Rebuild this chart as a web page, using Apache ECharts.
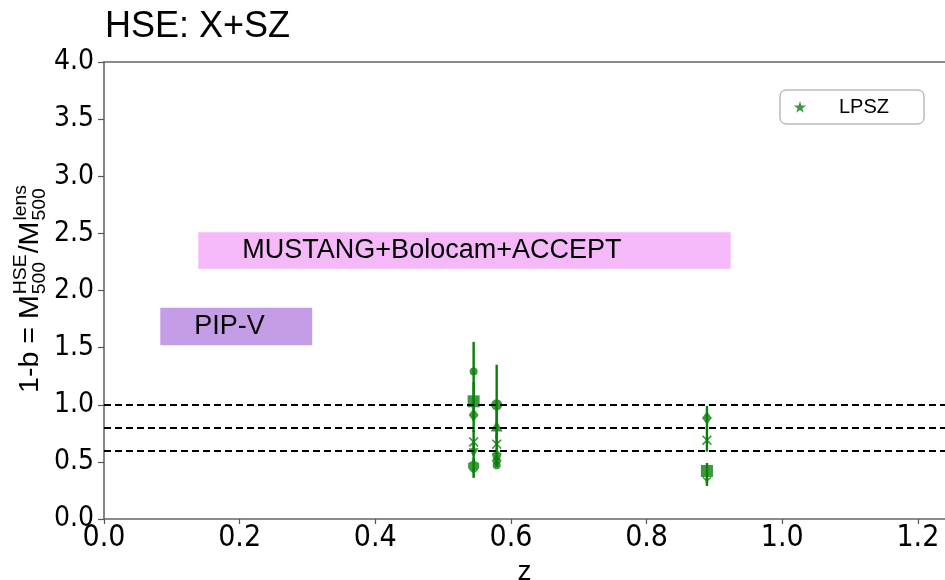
<!DOCTYPE html>
<html><head><meta charset="utf-8">
<script src="https://cdn.jsdelivr.net/npm/echarts@6/dist/echarts.min.js"></script>
<style>html,body{margin:0;padding:0;background:#fff}#c{width:945px;height:580px}</style>
</head><body><div id="c"></div>
<script>
// ---------------- data ----------------
const titleText = 'HSE: X+SZ';
const xAxisName = 'z';
const xTickValues = [0, 0.2, 0.4, 0.6, 0.8, 1.0, 1.2];
const yTickValues = [0, 0.5, 1.0, 1.5, 2.0, 2.5, 3.0, 3.5, 4.0];
const referenceLines = [1.0, 0.8, 0.6];

const bandNames  = ['MUSTANG+Bolocam+ACCEPT', 'PIP-V'];
const bandZMin   = [0.139, 0.083];
const bandZMax   = [0.924, 0.307];
const bandYMin   = [2.19, 1.52];
const bandYMax   = [2.51, 1.85];
const bandLabelZ = [0.204, 0.133];

const legendName = 'LPSZ';
const pointZ     = [0.545, 0.545, 0.545, 0.545, 0.545, 0.545, 0.545,
                    0.579, 0.579, 0.579, 0.579, 0.579, 0.579,
                    0.889, 0.889, 0.889, 0.889];
const pointValue = [1.29, 1.03, 0.91, 0.675, 0.58, 0.465, 0.40,
                    1.00, 0.815, 0.655, 0.56, 0.51, 0.47,
                    0.885, 0.69, 0.42, 0.33];
const pointLow   = [1.05, 0.86, 0.76, 0.58, 0.50, 0.41, 0.36,
                    0.70, 0.64, 0.57, 0.50, 0.46, 0.455,
                    0.78, 0.59, 0.31, 0.29];
const pointHigh  = [1.55, 1.20, 1.06, 0.78, 0.66, 0.53, 0.44,
                    1.35, 0.99, 0.74, 0.62, 0.57, 0.50,
                    0.99, 0.79, 0.49, 0.36];
const pointShape = ['circle', 'square', 'diamond', 'x', 'vtri', 'hexagon', 'tri',
                    'circle', 'triangle', 'x', 'pentagon', 'diamond', 'circle',
                    'diamond', 'x', 'square', 'tri'];

// ---------------- styles ----------------
const GREEN = '#0b7f0b';
const bandColors = ['#f5b9fa', '#c49de6'];
const shapePaths = {
  circle: 'circle',
  square: 'rect',
  diamond: 'path://M5,0L9,6.5L5,13L1,6.5Z',
  triangle: 'triangle',
  x: 'path://M1.2,0L5,3.8L8.8,0L10,1.2L6.2,5L10,8.8L8.8,10L5,6.2L1.2,10L0,8.8L3.8,5L0,1.2Z',
  vtri: 'path://M0,0L10,0L5,10Z',
  hexagon: 'path://M5,0L9.33,2.5L9.33,7.5L5,10L0.67,7.5L0.67,2.5Z',
  pentagon: 'path://M5,0L10,3.8L8.1,10L1.9,10L0,3.8Z',
  tri: 'path://M4.2,5L4.2,10L5.8,10L5.8,5L10,1.2L9,0L5,3.6L1,0L0,1.2Z',
  star: 'path://M5,0L6.2,3.6L10,3.6L7,5.9L8.1,9.5L5,7.3L1.9,9.5L3,5.9L0,3.6L3.8,3.6Z'
};
const shapeSize = {circle: [8, 8], square: [12, 12], diamond: [10, 13], triangle: [12, 11], x: [10, 10],
                   vtri: [10, 9], hexagon: [11, 11], pentagon: [10, 10], tri: [9, 9]};
const bigCircle = 11;

const X_MIN = 0, X_MAX = 1.24, Y_MIN = 0, Y_MAX = 4;
const TICK_FONT = '"Liberation Sans Narrow", "DejaVu Sans Condensed", sans-serif';
const TEXT_FONT = '"Liberation Sans", Arial, sans-serif';

const chart = echarts.init(document.getElementById('c'), null, {renderer: 'canvas'});

// y-axis label with stacked super/subscripts, built as rotated text group
function measure(text, size) {
  const ctx = document.createElement('canvas').getContext('2d');
  ctx.font = size + 'px "Liberation Sans"';
  return ctx.measureText(text).width;
}
const MAIN = 28, SMALL = 19;
const parts = [];
let cx = 0;
const w1 = measure('1-b = M', MAIN);
parts.push({type: 'text', x: cx, y: 0, style: {text: '1-b = M', font: MAIN + 'px ' + TEXT_FONT, fill: '#000', verticalAlign: 'middle'}});
cx += w1 + 1;
const wHSE = Math.max(measure('HSE', SMALL), measure('500', SMALL));
parts.push({type: 'text', x: cx, y: -9, style: {text: 'HSE', font: SMALL + 'px ' + TEXT_FONT, fill: '#000', verticalAlign: 'middle'}});
parts.push({type: 'text', x: cx, y: 10, style: {text: '500', font: SMALL + 'px ' + TEXT_FONT, fill: '#000', verticalAlign: 'middle'}});
cx += wHSE + 1;
const w2 = measure('/M', MAIN);
parts.push({type: 'text', x: cx, y: 0, style: {text: '/M', font: MAIN + 'px ' + TEXT_FONT, fill: '#000', verticalAlign: 'middle'}});
cx += w2 + 1;
const wLens = Math.max(measure('lens', SMALL), measure('500', SMALL));
parts.push({type: 'text', x: cx, y: -9, style: {text: 'lens', font: SMALL + 'px ' + TEXT_FONT, fill: '#000', verticalAlign: 'middle'}});
parts.push({type: 'text', x: cx, y: 10, style: {text: '500', font: SMALL + 'px ' + TEXT_FONT, fill: '#000', verticalAlign: 'middle'}});
cx += wLens;
const labelLength = 208;
const stretch = labelLength / cx;

const option = {
  backgroundColor: '#fff',
  animation: false,
  title: {
    text: titleText, left: 100, top: 4,
    textStyle: {fontFamily: TEXT_FONT, fontSize: 36, fontWeight: 'normal', color: '#000'}
  },
  grid: {left: 104, right: 0, top: 62, bottom: 61, containLabel: false, outerBoundsMode: 'none'},
  legend: {
    data: [{name: legendName, icon: shapePaths.star}],
    left: 780, top: 90,
    orient: 'vertical',
    itemWidth: 12, itemHeight: 12,
    padding: [7, 35, 7, 14],
    borderColor: '#999', borderWidth: 1, borderRadius: 6,
    backgroundColor: '#fff',
    textStyle: {fontFamily: TEXT_FONT, fontSize: 20, color: '#000', padding: [0, 0, 0, 28]}
  },
  xAxis: [{
    type: 'value', min: X_MIN, max: X_MAX,
    name: xAxisName, nameLocation: 'middle', nameGap: 37,
    nameTextStyle: {fontFamily: TEXT_FONT, fontSize: 28, color: '#000'},
    axisLine: {show: true, onZero: false, lineStyle: {color: '#666', width: 1.6}},
    axisTick: {show: true, length: 5, customValues: xTickValues, lineStyle: {color: '#555', width: 1.2}},
    axisLabel: {customValues: xTickValues, margin: 4, fontFamily: TICK_FONT, fontSize: 30, color: '#000',
      formatter: v => v.toFixed(1)},
    splitLine: {show: false}
  }, {
    type: 'value', min: X_MIN, max: X_MAX, position: 'top',
    axisLine: {show: true, onZero: false, lineStyle: {color: '#666', width: 1.6}},
    axisTick: {show: false}, axisLabel: {show: false}, splitLine: {show: false}
  }],
  yAxis: {
    type: 'value', min: Y_MIN, max: Y_MAX, interval: 0.5,
    axisLine: {show: true, onZero: false, lineStyle: {color: '#666', width: 1.6}},
    axisTick: {show: true, length: 6, lineStyle: {color: '#555', width: 1.2}},
    axisLabel: {margin: 10, fontFamily: TICK_FONT, fontSize: 28, color: '#000',
      formatter: v => v.toFixed(1)},
    splitLine: {show: false}
  },
  graphic: [{
    type: 'group', x: 30, y: 393, rotation: Math.PI / 2, scaleX: stretch, scaleY: 1,
    children: parts
  }],
  series: [
    {
      type: 'custom', name: 'bands', silent: true, z: 1,
      data: bandNames.map((n, i) => [bandZMin[i], bandZMax[i], bandYMin[i], bandYMax[i], bandLabelZ[i]]),
      renderItem(params, api) {
        const i = params.dataIndex;
        const p0 = api.coord([api.value(0), api.value(3)]);
        const p1 = api.coord([api.value(1), api.value(2)]);
        const pl = api.coord([api.value(4), (api.value(2) + api.value(3)) / 2]);
        return {type: 'group', children: [
          {type: 'rect', shape: {x: p0[0], y: p0[1], width: p1[0] - p0[0], height: p1[1] - p0[1]},
            style: {fill: bandColors[i]}},
          {type: 'text', x: pl[0], y: pl[1],
            style: {text: bandNames[i], fill: '#000', font: '27px ' + TEXT_FONT, verticalAlign: 'middle', align: 'left'}}
        ]};
      }
    },
    {
      type: 'custom', name: 'errors', silent: true, z: 3,
      data: pointZ.map((z, i) => [z, pointLow[i], pointHigh[i]]),
      renderItem(params, api) {
        const a = api.coord([api.value(0), api.value(1)]);
        const b = api.coord([api.value(0), api.value(2)]);
        return {type: 'line', shape: {x1: a[0], y1: a[1], x2: b[0], y2: b[1]},
          style: {stroke: GREEN, lineWidth: 2.4}};
      }
    },
    {
      type: 'scatter', name: legendName, z: 4,
      symbol: shapePaths.star, symbolSize: 10,
      itemStyle: {color: GREEN},
      data: pointZ.map((z, i) => ({
        value: [z, pointValue[i]],
        symbol: shapePaths[pointShape[i]],
        symbolSize: (pointShape[i] === 'circle' && i !== 0 && i !== 12) ? bigCircle : shapeSize[pointShape[i]]
      })),
      markLine: {
        silent: true, symbol: ['none', 'none'], label: {show: false},
        lineStyle: {color: '#000', width: 1.8, type: [7, 4]},
        data: referenceLines.map(y => ({yAxis: y}))
      }
    }
  ]
};
chart.setOption(option);
</script>
</body></html>
